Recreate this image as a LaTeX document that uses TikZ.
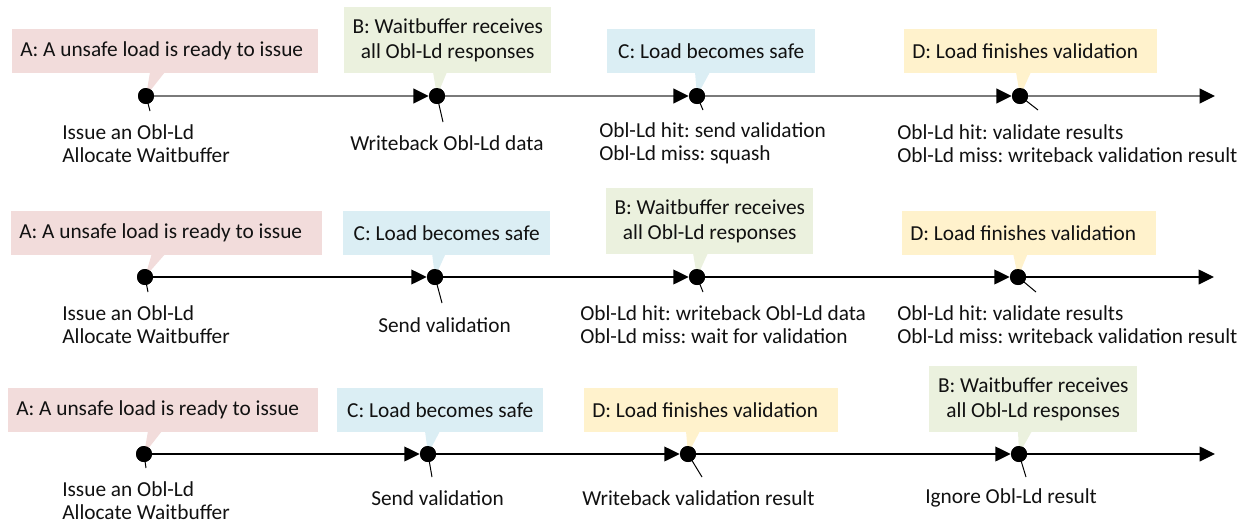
\documentclass[tikz,border=0pt]{standalone}
\usepackage{fontspec}
\setmainfont{Carlito}
\usetikzlibrary{arrows.meta}
\definecolor{evA}{HTML}{F2DCDB}
\definecolor{evB}{HTML}{EBF1DE}
\definecolor{evC}{HTML}{DBEEF4}
\definecolor{evD}{HTML}{FFF2CC}
\definecolor{ink}{HTML}{111111}
\definecolor{axisgray}{HTML}{7A7A7A}
\newcommand{\lefttext}[2]{\makebox[#1pt][l]{#2}}
\tikzset{
  lbl/.style={font=\fontsize{16}{17.25}\selectfont\frenchspacing, text=ink, inner sep=0pt},
  note/.style={lbl, anchor=west, align=left},
  ev/.style={lbl, anchor=north west, align=center, minimum height=#1*0.75pt},
  ev/.default=44,
  evl/.style={ev, inner xsep=6pt},
  dot/.style={circle, fill=black, inner sep=0pt, minimum size=12pt},
  tl/.style={line width=1.1pt, draw=black, -{Triangle[length=11.5pt, width=11pt, color=black]}},
  tlgray/.style={tl, line width=1.4pt, draw=axisgray},
  tick/.style={line width=0.75pt, black},
}
\begin{document}
\begin{tikzpicture}[x=0.75pt, y=-0.75pt]
\useasboundingbox (0,0) rectangle (1250,525);

% ---------------- row 1: A, B, C, D ----------------
\coordinate (e1) at (1215,96);
\node[dot] (a1) at (146,96) {};
\node[dot] (b1) at (437,96) {};
\node[dot] (c1) at (697,96) {};
\node[dot] (d1) at (1020,96) {};

\node[evl, fill=evA] (na1) at (12,29) {\lefttext{217.5}{A: A unsafe load is ready to issue}};
\node[ev=66, fill=evB, minimum width=155.25pt] (nb1) at (344,7) {B: Waitbuffer receives\\[1.5pt]all Obl-Ld responses};
\node[ev, fill=evC, minimum width=156pt] (nc1) at (607,29) {C: Load becomes safe};
\node[evl, fill=evD] (nd1) at (904,29) {\lefttext{177.75}{D: Load finishes validation}};
\fill[evA] (150,72) -- (165,72) -- (a1.center) -- cycle;
\fill[evB] (433,72) -- (447,72) -- (b1.center) -- cycle;
\fill[evC] (695,72) -- (710,72) -- (c1.center) -- cycle;
\fill[evD] (1016,72) -- (1031,72) -- (d1.center) -- cycle;

\draw[tlgray] (a1) -- (b1);
\draw[tlgray] (b1) -- (c1);
\draw[tlgray] (c1) -- (d1);
\draw[tlgray] (d1) -- (e1);
\node[dot] at (a1) {};\node[dot] at (b1) {};\node[dot] at (c1) {};\node[dot] at (d1) {};

\coordinate (ta1) at (150,111);
\coordinate (tb1) at (443,122);
\coordinate (tc1) at (703,110);
\coordinate (td1) at (1038,110);
\draw[tick] (a1.center) -- (ta1);
\draw[tick] (b1.center) -- (tb1);
\draw[tick] (c1.center) -- (tc1);
\draw[tick] (d1.center) -- (td1);

\node[note] (xa1) at (62,143.5) {Issue an Obl-Ld\\Allocate Waitbuffer};
\node[note] (xb1) at (350,143) {Writeback Obl-Ld data};
\node[note] (xc1) at (599,143.5) {Obl-Ld hit: send validation\\Obl-Ld miss: squash};
\node[note] (xd1) at (897,143.5) {Obl-Ld hit: validate results\\Obl-Ld miss: writeback validation result};

% ---------------- row 2: A, C, B, D ----------------
\coordinate (e2) at (1214,277);
\node[dot] (a2) at (145,277) {};
\node[dot] (c2) at (435,277) {};
\node[dot] (b2) at (697,277) {};
\node[dot] (d2) at (1018,277) {};

\node[evl, fill=evA] (na2) at (11,211) {\lefttext{221.25}{A: A unsafe load is ready to issue}};
\node[ev, fill=evC, minimum width=155.25pt] (nc2) at (343,211) {C: Load becomes safe};
\node[ev=66, fill=evB, minimum width=155.25pt] (nb2) at (606,188) {B: Waitbuffer receives\\[1.5pt]all Obl-Ld responses};
\node[evl, fill=evD] (nd2) at (902,211) {\lefttext{178.5}{D: Load finishes validation}};
\fill[evA] (152,253) -- (166,253) -- (a2.center) -- cycle;
\fill[evC] (432,253) -- (446,253) -- (c2.center) -- cycle;
\fill[evB] (693,253) -- (708,253) -- (b2.center) -- cycle;
\fill[evD] (1013,253) -- (1028,253) -- (d2.center) -- cycle;

\draw[tl] (a2) -- (c2);
\draw[tl] (c2) -- (b2);
\draw[tl] (b2) -- (d2);
\draw[tl] (d2) -- (e2);
\node[dot] at (a2) {};\node[dot] at (c2) {};\node[dot] at (b2) {};\node[dot] at (d2) {};

\coordinate (ta2) at (148,292);
\coordinate (tc2) at (442,303);
\coordinate (tb2) at (703,292);
\coordinate (td2) at (1036,292);
\draw[tick] (a2.center) -- (ta2);
\draw[tick] (c2.center) -- (tc2);
\draw[tick] (b2.center) -- (tb2);
\draw[tick] (d2.center) -- (td2);

\node[note] (xa2) at (62,325) {Issue an Obl-Ld\\Allocate Waitbuffer};
\node[note] (xc2) at (378,325) {Send validation};
\node[note] (xb2) at (580,325) {Obl-Ld hit: writeback Obl-Ld data\\Obl-Ld miss: wait for validation};
\node[note] (xd2) at (897,325) {Obl-Ld hit: validate results\\Obl-Ld miss: writeback validation result};

% ---------------- row 3: A, C, D, B ----------------
\coordinate (e3) at (1215,454);
\node[dot] (a3) at (144,454) {};
\node[dot] (c3) at (428,454) {};
\node[dot] (d3) at (688,454) {};
\node[dot] (b3) at (1019,454) {};

\node[evl, fill=evA] (na3) at (8,388) {\lefttext{220.5}{A: A unsafe load is ready to issue}};
\node[ev, fill=evC, minimum width=154.5pt] (nc3) at (337,388) {C: Load becomes safe};
\node[evl, fill=evD] (nd3) at (584,388) {\lefttext{178.5}{D: Load finishes validation}};
\node[ev=66, fill=evB, minimum width=156pt] (nb3) at (929,366) {B: Waitbuffer receives\\[1.5pt]all Obl-Ld responses};
\fill[evA] (148,431) -- (162,431) -- (a3.center) -- cycle;
\fill[evC] (425,431) -- (440,431) -- (c3.center) -- cycle;
\fill[evD] (686,431) -- (700,431) -- (d3.center) -- cycle;
\fill[evB] (1018,431) -- (1032,431) -- (b3.center) -- cycle;

\draw[tl] (a3) -- (c3);
\draw[tl] (c3) -- (d3);
\draw[tl] (d3) -- (b3);
\draw[tl] (b3) -- (e3);
\node[dot] at (a3) {};\node[dot] at (c3) {};\node[dot] at (d3) {};\node[dot] at (b3) {};

\coordinate (ta3) at (146,468);
\coordinate (tc3) at (432,477);
\coordinate (td3) at (702,477);
\coordinate (tb3) at (1026,477);
\draw[tick] (a3.center) -- (ta3);
\draw[tick] (c3.center) -- (tc3);
\draw[tick] (d3.center) -- (td3);
\draw[tick] (b3.center) -- (tb3);

\node[note] (xa3) at (62,501) {Issue an Obl-Ld\\Allocate Waitbuffer};
\node[note] (xc3) at (371,498) {Send validation};
\node[note] (xd3) at (582,498) {Writeback validation result};
\node[note] (xb3) at (925,498) {Ignore Obl-Ld result};
\end{tikzpicture}
\end{document}
